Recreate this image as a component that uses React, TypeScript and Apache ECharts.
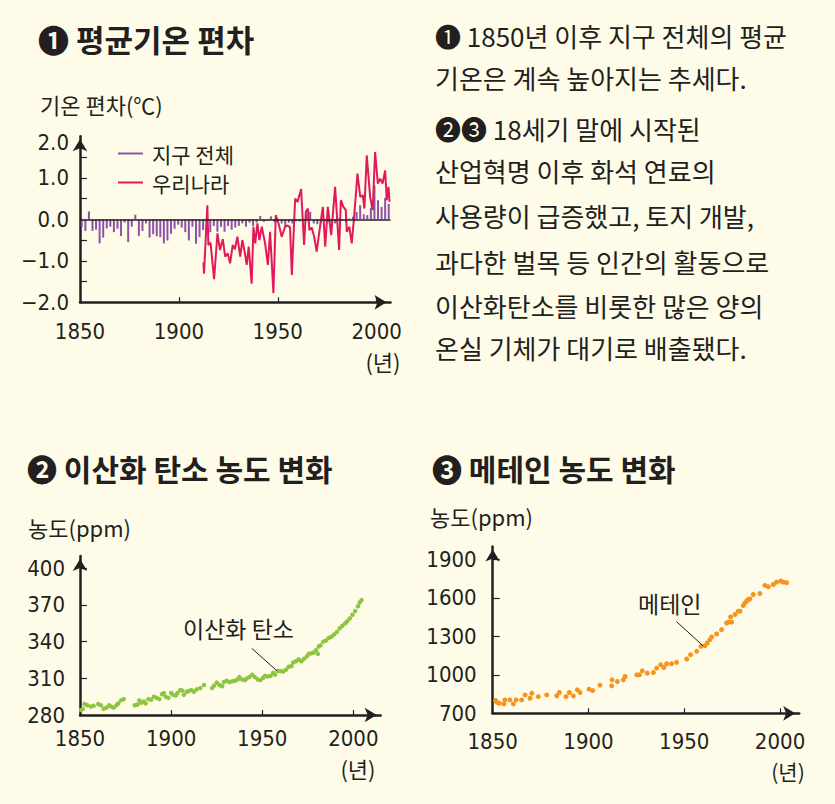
import React, { useEffect, useRef } from 'react';
import * as echarts from 'echarts';

// ---------- data ----------
// Global temperature anomaly bars (evenly spaced, 1851 → 2005)
const globalTempValues = [
  -0.18, -0.28, 0.19, -0.28, -0.25, -0.58, -0.44, -0.22, -0.18, -0.31,
  -0.23, -0.40, -0.08, -0.55, -0.18, 0.11, -0.40, -0.28, -0.10, -0.44,
  -0.36, -0.41, -0.43, -0.58, -0.51, -0.35, -0.23, -0.13, -0.20, -0.31,
  -0.51, -0.18, -0.59, -0.43, -0.26, -0.30, -0.31, -0.16, -0.30, -0.18,
  -0.30, -0.16, -0.25, -0.20, -0.16, -0.10, -0.18, -0.08, -0.16, -0.08,
  0.08, -0.06, -0.03, 0.07, -0.07, -0.03, -0.10, -0.16, -0.08, -0.10,
  -0.05, -0.05, 0.02, 0.12, 0.18, -0.10, -0.12, -0.08, -0.05, -0.06,
  -0.08, -0.10, 0.02, -0.03, -0.06, 0.02, 0.06, 0.18, 0.34, 0.12,
  0.10, 0.28, 0.82, 0.46, 0.30, 0.52, 0.37,
];
const globalTempSlots = globalTempValues.map((_, i) => String(i));

// Korea temperature anomaly [year, value]
const koreaTemp = [
  [1912.4, -1.04], [1912.7, -1.31], [1914.4, 0.34], [1914.9, -0.62], [1916, -0.56],
  [1917.8, -1.44], [1919.5, -0.34], [1920.8, -0.74], [1922.2, -0.48], [1923.4, -0.9],
  [1924.7, -0.82], [1925.9, -1.06], [1927.2, -0.62], [1928.3, -0.72], [1929.6, -0.42],
  [1931, -0.9], [1932.1, -0.5], [1933.4, -0.82], [1934.3, -1.1], [1935.3, -0.66],
  [1936.8, -1.55], [1937.7, -0.18], [1938.6, -0.58], [1939.7, -0.1], [1940.7, -0.5],
  [1941.9, -0.18], [1943.6, -0.58], [1945, -1.1], [1946.1, -0.3], [1947.8, -1.78],
  [1949, 0.1], [1950.4, -0.1], [1952, -0.42], [1953.7, -0.18], [1955, -0.15],
  [1956.2, -0.2], [1957.1, -1.34], [1958.8, 0.5], [1960, 0.42], [1961.8, 0.73],
  [1963.3, -0.62], [1964.2, 0.18], [1965.2, 0.26], [1966, -0.26], [1967.2, -0.2],
  [1968.4, -0.42], [1969.7, -0.78], [1970.9, -0.34], [1972.8, 0.3], [1974, -0.66],
  [1975.3, 0.3], [1977, -0.38], [1979, 0.78], [1981, -0.74], [1981.9, 0.46],
  [1983.2, 0.3], [1984.4, 0.22], [1984.9, -0.3], [1986.2, -0.18], [1987.4, -0.58],
  [1988.6, 0.06], [1990.3, 1.1], [1991.7, 0.54], [1993, 0.58], [1993.8, 0.26],
  [1995, 1.54], [1996.7, 0.54], [1998, 0.22], [1999.2, 1.62], [2000.6, 0.86],
  [2001.8, 0.98], [2003, 0.86], [2004.3, 1.18], [2005.1, 0.46], [2006, 0.78],
  [2006.5, 0.42],
];

// CO2 concentration (ppm) [year, value]
const co2 = [
  [1850.5, 284], [1851.5, 285], [1852.5, 289], [1854, 288], [1856, 287], [1857.5, 287.5],
  [1860, 289], [1861.5, 288], [1863, 285], [1864.5, 286], [1866, 288], [1867, 287],
  [1868.5, 286], [1870, 288], [1871, 289.5], [1872.5, 292], [1874, 293],
  [1880, 288], [1881.5, 288.5], [1882.5, 292], [1883.5, 290], [1885, 291], [1886, 289.5],
  [1887.5, 293], [1889, 292.5], [1890.5, 295], [1892, 294], [1893.5, 293], [1895, 297],
  [1896, 298], [1897, 295], [1898.5, 294], [1900, 298], [1901, 296.5], [1902.5, 296],
  [1903.5, 298], [1905, 300.5], [1906, 300], [1907, 296.5], [1908.5, 299], [1909.5, 299.5],
  [1911, 300.5], [1912.5, 299], [1914, 301], [1916, 302], [1918, 304.5],
  [1922.5, 302], [1923.5, 304], [1925, 306.5], [1926.5, 304.5], [1928, 303.5], [1929, 307],
  [1930.5, 308], [1932, 307], [1933.5, 307.5], [1935, 308], [1936.5, 309], [1937.5, 311],
  [1939, 309], [1940.5, 308.5], [1941.5, 310], [1943, 311], [1944.5, 313], [1946, 311],
  [1947.5, 309], [1949, 308.5], [1950.5, 310.5], [1951.5, 312], [1953, 311.5], [1954.5, 312],
  [1956, 314.5], [1957, 313], [1958.5, 316], [1960, 316], [1961.5, 315.5], [1963, 317],
  [1964.5, 319.5], [1966, 320], [1967, 323], [1968.5, 324], [1970, 325.5], [1971.5, 324],
  [1973, 326], [1974.5, 328], [1975.5, 330], [1977, 330.5], [1978, 331], [1979.5, 333],
  [1980.5, 330], [1981, 336], [1982, 337], [1983.5, 340], [1985, 341], [1986.5, 343],
  [1988, 344], [1989.5, 346], [1991, 348], [1992.5, 351], [1994, 353], [1995.5, 355],
  [1996.5, 356.5], [1998, 359], [1999.5, 362], [2001, 365], [2002.5, 369], [2003.5, 372],
  [2004.5, 374],
];

// Methane concentration [year, value]
const methane = [
  [1851.5, 800], [1852.1, 786], [1853.5, 778], [1855.9, 773], [1856.4, 804], [1859, 804],
  [1860.8, 773], [1862.2, 804], [1865.1, 804], [1866.9, 843], [1869.5, 817], [1870.4, 856],
  [1873.8, 830], [1878.2, 843], [1883.4, 836], [1884.8, 862], [1888.3, 830], [1890, 862],
  [1892.1, 836], [1894.2, 883], [1895.6, 862], [1900.3, 888], [1902.2, 877], [1906, 919],
  [1912.1, 914], [1912.3, 961], [1915.1, 948], [1918.2, 961], [1919.1, 987], [1925.2, 1000],
  [1926.6, 1000], [1928.1, 1031], [1930.7, 1013], [1933.9, 1018], [1935.6, 1052], [1937.7, 1078],
  [1939.4, 1057], [1940.8, 1086], [1943.4, 1086], [1946, 1097], [1951.3, 1123], [1953.3, 1157],
  [1956.5, 1183], [1958.7, 1222], [1960.8, 1227], [1962, 1248], [1963.4, 1274], [1964.3, 1295],
  [1966.9, 1318], [1969.5, 1352], [1972.1, 1404], [1973.2, 1412], [1974.2, 1451], [1974.7, 1410],
  [1976.5, 1470], [1978.2, 1496], [1979.1, 1496], [1980.8, 1540], [1981.7, 1561], [1982.6, 1575],
  [1983.4, 1587], [1984.3, 1592], [1986, 1626], [1989.5, 1634], [1992.1, 1697], [1993.9, 1686],
  [1996.5, 1704], [1998.2, 1723], [2000.3, 1731], [2001.7, 1723], [2003.4, 1718],
];

// tick labels / tick marks
const tempLabelTicks = [-2, -1, 0, 1, 2];
const tempMinorTicks = [-1.5, -1, -0.5, 0.5, 1, 1.5];
const yearLabels = [1850, 1900, 1950, 2000];
const yearTicks = [1900, 1950, 2000];
const co2LabelTicks = [280, 310, 340, 370, 400];
const co2Ticks = [310, 340, 370, 400];
const ch4LabelTicks = [700, 1000, 1300, 1600, 1900];
const ch4Ticks = [1000, 1300, 1600, 1900];

// texts
const titles = ['❶ 평균기온 편차', '❷ 이산화 탄소 농도 변화', '❸ 메테인 농도 변화'];
const bodyLines = [
  '❶ 1850년 이후 지구 전체의 평균',
  '기온은 계속 높아지는 추세다.',
  '❷❸ 18세기 말에 시작된',
  '산업혁명 이후 화석 연료의',
  '사용량이 급증했고, 토지 개발,',
  '과다한 벌목 등 인간의 활동으로',
  '이산화탄소를 비롯한 많은 양의',
  '온실 기체가 대기로 배출됐다.',
];

// ---------- styles ----------
const INK = '#231F20';
const BG = '#FEFCE8';
const PURPLE = '#8C52A8';
const RED = '#E2185B';
const GREEN = '#8CC63F';
const ORANGE = '#F7941D';
const KFONT = "'Noto Sans CJK KR', 'Noto Sans', sans-serif";
const NFONT = "'DejaVu Sans Condensed', Roboto, 'Noto Sans CJK KR', sans-serif";

const plain = (v: number) => String(v);

function valueXAxis(gridIndex: number, max: number, margin: number) {
  return {
    type: 'value', gridIndex, min: 1850, max,
    axisLine: {
      show: true, onZero: false,
      lineStyle: { color: INK, width: 2.5 },
      symbol: ['none', 'arrow'], symbolSize: [11, 12], symbolOffset: [0, -4],
    },
    axisTick: { show: true, inside: true, length: 5, customValues: yearTicks, lineStyle: { color: INK, width: 1.2 } },
    axisLabel: { customValues: yearLabels, margin, fontSize: 22, fontFamily: NFONT, color: INK, formatter: plain },
    splitLine: { show: false },
  };
}

function valueYAxis(gridIndex: number, min: number, max: number, labels: number[], ticks: number[], margin: number, formatter: any) {
  return {
    type: 'value', gridIndex, min, max,
    axisLine: {
      show: true, onZero: false,
      lineStyle: { color: INK, width: 2.5 },
      symbol: ['none', 'arrow'], symbolSize: [11, 12], symbolOffset: [0, -3],
    },
    axisTick: { show: true, inside: true, length: 7, customValues: ticks, lineStyle: { color: INK, width: 1.2 } },
    axisLabel: {
      customValues: labels, margin, fontSize: 22, fontFamily: NFONT, color: INK,
      formatter,
      rich: { low: { padding: [12, 0, 0, 0], fontSize: 22, fontFamily: NFONT, color: INK } },
    },
    splitLine: { show: false },
  };
}

function txt(text: string, x: number, y: number, size: number, opts: any = {}) {
  return {
    type: 'text', x, y, silent: true,
    style: {
      text, fill: INK, fontSize: size, fontFamily: KFONT,
      fontWeight: opts.bold ? 'bold' : 'normal',
      align: opts.align || 'left', verticalAlign: 'middle',
    },
  };
}

export default function App() {
  const ref = useRef<HTMLDivElement>(null);
  useEffect(() => {
    if (!ref.current) return;
    const chart = echarts.init(ref.current, null, { renderer: 'svg' });
    const bodyY = [35, 77, 128, 170, 215, 261, 305, 347];
    const option: any = {
      animation: false,
      backgroundColor: BG,
      grid: [
        { left: 80, top: 136.3, width: 310.5, height: 166 },
        { left: 80, top: 556.1, width: 300.7, height: 158.9 },
        { left: 492.7, top: 546.5, width: 306.5, height: 166.8 },
      ],
      legend: {
        left: 113, top: 138, orient: 'vertical', itemWidth: 25, itemHeight: 2, itemGap: 8,
        selectedMode: false,
        data: [{ name: '지구 전체', icon: 'rect' }, { name: '우리나라', icon: 'rect' }],
        textStyle: { fontSize: 21, lineHeight: 21, fontFamily: KFONT, color: INK, padding: [0, 0, 0, 4] },
      },
      xAxis: [
        valueXAxis(0, 2007, 18),
        { type: 'category', gridIndex: 0, data: globalTempSlots, show: false, boundaryGap: true },
        valueXAxis(1, 2015, 12),
        valueXAxis(2, 2010, 17),
      ],
      yAxis: [
        valueYAxis(0, -2, 2, tempLabelTicks, tempMinorTicks, 11, (v: number) => {
          const s = (v < 0 ? '−' : '') + Math.abs(v).toFixed(1);
          return v === 2 ? '{low|' + s + '}' : s;
        }),
        valueYAxis(1, 280, 410, co2LabelTicks, co2Ticks, 15, plain),
        valueYAxis(2, 700, 2000, ch4LabelTicks, ch4Ticks, 16, plain),
      ],
      series: [
        {
          name: '지구 전체', type: 'bar', xAxisIndex: 1, yAxisIndex: 0,
          data: globalTempValues, barWidth: 2, itemStyle: { color: PURPLE }, z: 2,
          markLine: {
            silent: true, symbol: ['none', 'none'], label: { show: false },
            lineStyle: { color: INK, width: 1.5, type: 'solid' },
            data: [{ yAxis: 0 }],
          },
        },
        {
          name: '우리나라', type: 'line', xAxisIndex: 0, yAxisIndex: 0,
          data: koreaTemp, showSymbol: false, symbol: 'none', z: 4,
          lineStyle: { color: RED, width: 2 }, itemStyle: { color: RED },
        },
        {
          name: '이산화 탄소', type: 'scatter', xAxisIndex: 2, yAxisIndex: 1,
          data: co2, symbolSize: 4.5, itemStyle: { color: GREEN, opacity: 1 },
          markLine: {
            silent: true, symbol: ['none', 'none'], label: { show: false },
            lineStyle: { color: INK, width: 1, type: 'solid' },
            data: [[{ coord: [1944.2, 334.6] }, { coord: [1958, 316.2] }]],
          },
        },
        {
          name: '메테인', type: 'scatter', xAxisIndex: 3, yAxisIndex: 2,
          data: methane, symbolSize: 5, itemStyle: { color: ORANGE, opacity: 1 },
          markLine: {
            silent: true, symbol: ['none', 'none'], label: { show: false },
            lineStyle: { color: INK, width: 1, type: 'solid' },
            data: [[{ coord: [1946, 1414] }, { coord: [1959.9, 1225] }]],
          },
        },
      ],
      graphic: [
        txt(titles[0], 38, 38, 31, { bold: true }),
        txt(titles[1], 27, 468, 30, { bold: true }),
        txt(titles[2], 432, 468, 30, { bold: true }),
        ...bodyLines.map((l, i) => txt(l, 435, bodyY[i], 26)),
        txt('기온 편차(℃)', 40, 104, 22),
        txt('(년)', 383, 361, 22, { align: 'center' }),
        txt('농도(ppm)', 28, 527, 22),
        txt('(년)', 358, 768, 22, { align: 'center' }),
        txt('이산화 탄소', 183, 628, 23),
        txt('농도(ppm)', 430, 516, 22),
        txt('(년)', 788, 771, 21, { align: 'center' }),
        txt('메테인', 638, 603, 23),
      ],
    };
    chart.setOption(option);
    return () => chart.dispose();
  }, []);
  return (
    <div
      ref={ref}
      style={{ position: 'absolute', left: 0, top: 0, width: 835, height: 804 }}
    />
  );
}
